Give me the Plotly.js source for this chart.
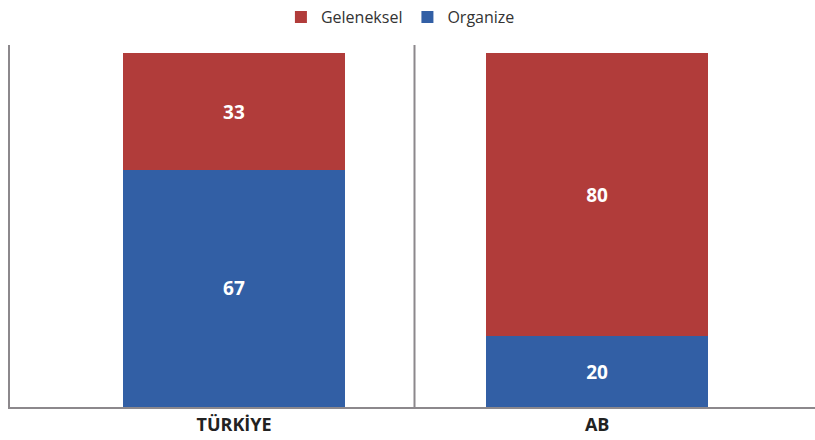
<!DOCTYPE html>
<html>
<head>
<meta charset="utf-8">
<script src="https://cdn.plot.ly/plotly-3.0.1.min.js"></script>
<style>html,body{margin:0;padding:0;background:#fff;}</style>
</head>
<body>
<div id="chart" style="width:815px;height:440px;"></div>
<script>
const categories = ["TÜRKİYE", "AB"];
const organize = [67, 20];
const geleneksel = [33, 80];
const seriesNames = ["Geleneksel", "Organize"];

const fontFam = "'Open Sans', 'Noto Sans', sans-serif";
const barWidth = 0.61;

const traces = [
  {
    type: "bar", name: seriesNames[1], x: [0, 1], y: organize,
    text: organize.map(String), textposition: "inside", insidetextanchor: "middle",
    textfont: {color: "#ffffff", size: 19, family: fontFam, weight: "bold"},
    marker: {color: "#325fa5"}, width: barWidth, hoverinfo: "none"
  },
  {
    type: "bar", name: seriesNames[0], x: [0, 1], y: geleneksel,
    text: geleneksel.map(String), textposition: "inside", insidetextanchor: "middle",
    textfont: {color: "#ffffff", size: 19, family: fontFam, weight: "bold"},
    marker: {color: "#b13c3a"}, width: barWidth, hoverinfo: "none"
  }
];

const layout = {
  width: 815, height: 440,
  margin: {l: 10, r: 0, t: 45, b: 33, autoexpand: false},
  barmode: "stack",
  paper_bgcolor: "#ffffff", plot_bgcolor: "#ffffff",
  font: {family: fontFam, color: "#333333"},
  showlegend: true,
  legend: {orientation: "h", x: 0.485, xanchor: "center", y: 1.077, yanchor: "middle",
           traceorder: "reversed", font: {size: 16, color: "#333333"}},
  xaxis: {
    range: [-0.617, 1.6], tickmode: "array", tickvals: [0, 1],
    ticktext: categories.map(c => "<b>" + c + "</b>"),
    tickfont: {size: 18, color: "#222222", family: fontFam},
    showgrid: false, zeroline: false, showline: true, linecolor: "#8c888c", linewidth: 2,
    ticks: "", fixedrange: true
  },
  yaxis: {
    range: [0, 102.3], showticklabels: false, showgrid: false, zeroline: false,
    showline: true, linecolor: "#8c888c", linewidth: 2, ticks: "", fixedrange: true
  },
  shapes: [
    {type: "line", xref: "x", yref: "paper", x0: 0.497, x1: 0.497, y0: 0, y1: 1,
     line: {color: "#8c888c", width: 2}}
  ]
};

Plotly.newPlot("chart", traces, layout, {displayModeBar: false, staticPlot: true});
</script>
</body>
</html>
